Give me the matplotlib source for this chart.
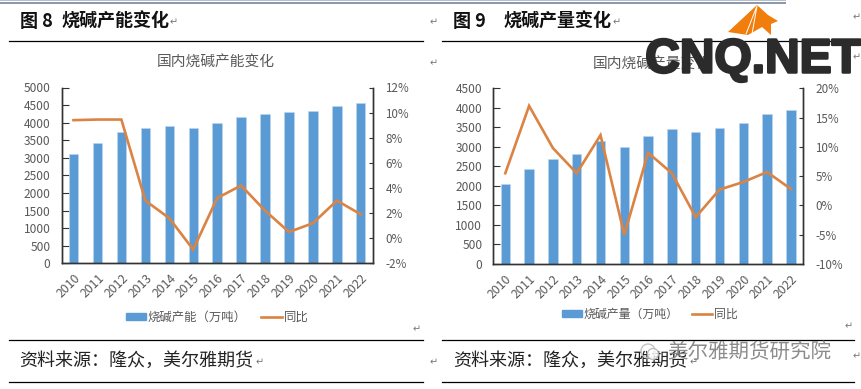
import matplotlib
matplotlib.use("Agg")
import matplotlib.pyplot as plt
import matplotlib.patheffects as pe
from matplotlib.patches import Polygon, Rectangle, Circle
from matplotlib.lines import Line2D

plt.rcParams['font.family'] = ['Noto Sans CJK SC', 'DejaVu Sans']

years = ['2010','2011','2012','2013','2014','2015','2016','2017','2018','2019','2020','2021','2022']
capacity = [3100,3420,3730,3840,3900,3860,3990,4150,4260,4290,4340,4460,4550]
capacity_yoy = [9.4,9.45,9.45,3.0,1.6,-0.9,3.2,4.2,2.2,0.5,1.2,3.0,1.9]
output = [2060,2430,2680,2810,3150,3000,3280,3450,3390,3490,3620,3830,3940]
output_yoy = [5.5,17.0,9.8,5.5,12.0,-5.0,9.0,5.5,-2.0,2.7,4.0,5.7,2.8]

W, H = 861, 389
BLUE = '#5B9BD5'
ORANGE = '#DB8343'
GREY = '#595959'
fig = plt.figure(figsize=(W/100, H/100), dpi=100)

bg = fig.add_axes([0, 0, 1, 1], zorder=0)
bg.set_xlim(0, W); bg.set_ylim(H, 0); bg.axis('off')
fg = fig.add_axes([0, 0, 1, 1], zorder=5)
fg.set_xlim(0, W); fg.set_ylim(H, 0); fg.axis('off'); fg.patch.set_alpha(0)


def panel(box, vals, yoy, ymax, ystep, rmin, rmax, rstep, title, bar_label, title_x, title_y, leg_y, leg_x, leg_fs):
    x0, x1, ytop, ybot = box
    ax = fig.add_axes([x0/W, 1-ybot/H, (x1-x0)/W, (ybot-ytop)/H], zorder=2)
    pos = list(range(len(years)))
    ax.bar(pos, vals, width=0.39, color=BLUE, edgecolor='#BDD7EE', linewidth=0.4, zorder=2)
    ax.set_xlim(-0.5, len(years)-0.5)
    ax.set_ylim(0, ymax)
    ax.set_yticks(range(0, ymax+1, ystep))
    ax.set_xticks(pos)
    ax.set_xticklabels(years, rotation=45, ha='right', rotation_mode='anchor', fontsize=8.8, color=GREY)
    ax.tick_params(axis='x', length=0, pad=6)
    ax.tick_params(axis='y', direction='in', length=5, width=0.8, labelsize=8.6, labelcolor=GREY, pad=8, color='#333333')
    ax.spines['top'].set_visible(False)
    for s in ['left', 'bottom', 'right']:
        ax.spines[s].set_color('#333333'); ax.spines[s].set_linewidth(1.0)
    ax.patch.set_alpha(0)
    ax2 = ax.twinx()
    ax2.plot(pos, yoy, color=ORANGE, lw=1.9, solid_joinstyle='miter', zorder=3)
    ax2.set_ylim(rmin, rmax)
    ax2.set_yticks(range(rmin, rmax+1, rstep))
    ax2.set_yticklabels([f'{v}%' for v in range(rmin, rmax+1, rstep)])
    ax2.tick_params(axis='y', direction='in', length=3, width=0.8, labelsize=8.4, labelcolor=GREY, pad=9, color='#333333')
    ax2.spines['top'].set_visible(False)
    for s in ['left', 'bottom', 'right']:
        ax2.spines[s].set_color('#333333'); ax2.spines[s].set_linewidth(1.0)
    bg.text(title_x, title_y, title, fontsize=10.6, color=GREY, ha='center', va='center')
    hs = [Rectangle((0, 0), 1, 1, color=BLUE), Line2D([0], [0], color=ORANGE, lw=1.9)]
    fig.legend(hs, [bar_label, '同比'], loc='center', bbox_to_anchor=(leg_x/W, 1-leg_y/H), ncol=2, frameon=False,
               fontsize=leg_fs, labelcolor=GREY, handlelength=1.65, handleheight=0.5, columnspacing=1.15, handletextpad=0.15)


panel((61.5, 372.8, 87.5, 263.4), capacity, capacity_yoy, 5000, 500, -2, 12, 2,
      '国内烧碱产能变化', '烧碱产能（万吨）', 216, 63, 317, 217, 8.9)
panel((493.4, 802.8, 88.3, 264), output, output_yoy, 4500, 500, -10, 20, 5,
      '国内烧碱产量变化', '烧碱产量（万吨）', 652, 65, 314.5, 650, 8.6)

# document chrome
bg.add_patch(Rectangle((0, 0), 786, 1.2, color='#B8C0CE', lw=0))
bg.add_patch(Rectangle((0, 2.2), 786, 1.6, color='#8C99AE', lw=0))
for (a, b) in [(9, 423), (442, 854)]:
    for y in (40.5, 339.5, 381.5):
        bg.plot([a, b], [y, y], color='black', lw=0.9)
head = dict(fontsize=13, fontweight='bold', color='#111111', va='center')
bg.text(20, 21, '图 8', **head)
bg.text(61, 21, '烧碱产能变化', **head)
bg.text(453, 21, '图 9', **head)
bg.text(504, 21, '烧碱产量变化', **head)
bg.text(19, 361, '资料来源：隆众，美尔雅期货', fontsize=13, color='#222222', va='center')
bg.text(453, 361, '资料来源：隆众，美尔雅期货', fontsize=13, color='#222222', va='center')
ret = dict(fontsize=7, color='#777777', ha='center', va='center', family='DejaVu Sans')
for (x, y) in [(174, 22), (617, 22), (434, 22), (857, 17), (434, 63), (857, 57), (417, 329), (849, 326), (260, 362), (694, 362), (434, 362), (857, 356)]:
    bg.text(x, y, '↵', **ret)

# overlaid watermarks
fg.add_patch(Polygon([(728, 32), (757, 5), (768, 15), (778, 21), (771, 24), (771, 35), (762, 27), (748, 35)], color='#F07D0C', lw=0))
fg.plot([746, 757, 752], [34, 6, 34], color='white', lw=0.7)
fg.text(753, 60, 'CNQ.NET', fontsize=34.5, fontweight='bold', family='Liberation Sans', color='#2B2B2B', ha='center', va='center',
        path_effects=[pe.withStroke(linewidth=1.8, foreground='#2B2B2B')])
fg.add_patch(Circle((648, 351), 7, fill=False, ec='#C4C4C4', lw=1))
fg.add_patch(Circle((653, 354), 5.5, facecolor='white', ec='#B0B0B0', lw=1, alpha=0.8))
fg.text(667, 352, '美尔雅期货研究院', fontsize=14.8, color='#808080', va='center', alpha=0.9)

fig.savefig('out.png', dpi=100)
